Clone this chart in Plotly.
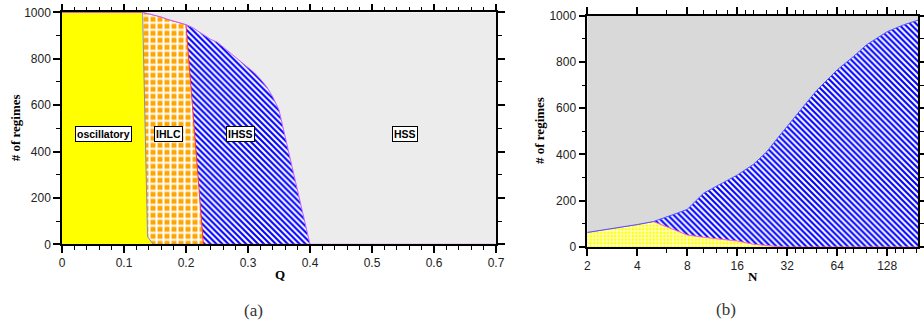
import plotly.graph_objects as go

# ---------------- panel (a): number of regimes versus Q ----------------
q = [0, 0.13, 0.138, 0.147, 0.16, 0.17, 0.18, 0.19, 0.20, 0.21, 0.22, 0.228,
     0.24, 0.25, 0.26, 0.27, 0.28, 0.29, 0.30, 0.31, 0.32, 0.33, 0.34, 0.35,
     0.36, 0.37, 0.38, 0.39, 0.40, 0.70]
osc_a = [1000, 1000, 33, 0] + [0] * 26
ihlc_a = [0, 0, 962, 990, 980, 970, 962, 955, 947, 609, 271, 0] + [0] * 18
ihss_a = [0] * 9 + [326, 647, 905, 883, 872, 850, 828, 805, 784, 765, 740,
                    712, 680, 635, 579, 463, 347, 232, 116, 0, 0]
hss_a = [0, 0, 5, 10, 20, 30, 38, 45, 53, 65, 82, 95, 117, 128, 150, 172, 195,
         216, 235, 260, 288, 320, 365, 421, 537, 653, 768, 884, 1000, 1000]

# ---------------- panel (b): number of regimes versus N ----------------
n = [2, 3, 4, 5, 6, 7, 8, 10, 12, 14, 16, 20, 24, 28, 32, 40, 48, 64, 80, 96,
     128, 160, 197]
ihlc_b = [63, 82, 97, 110, 88, 68, 52, 42, 36, 31, 26, 12, 5, 2, 0, 0, 0, 0,
          0, 0, 0, 0, 0]
ihss_b = [0, 0, 0, 0, 41, 79, 111, 190, 227, 259, 285, 345, 406, 469, 520,
          607, 676, 766, 823, 874, 931, 960, 981]
hss_b = [937, 918, 903, 890, 871, 853, 837, 768, 737, 710, 689, 643, 589, 529,
         480, 393, 324, 234, 177, 126, 69, 40, 19]

n_major = [2, 4, 8, 16, 32, 64, 128]
n_minor = [6, 10, 12, 14, 18, 20, 24, 28, 36, 40, 48, 56, 72, 80, 96, 112,
           144, 160, 192]

W, H = 924, 323
XA_DOM = [62 / W, 496 / W]
YA_DOM = [78.7 / H, 310.7 / H]
XB_DOM = [587.3 / W, 918.3 / W]
YB_DOM = [76 / H, 307.3 / H]
Q_RANGE = [0, 0.7]
N_RANGE = [0.30103, 2.2945]   # log10 of 2 .. 197
Y_RANGE = [0, 1000]

fig = go.Figure()


def layer(x, y, xa, ya, group, line_color, line_width=1.0, fillcolor=None,
          pattern=None):
    kw = dict(x=x, y=y, xaxis=xa, yaxis=ya, stackgroup=group, mode="lines",
              line=dict(color=line_color, width=line_width),
              hoverinfo="skip", showlegend=False)
    if pattern is not None:
        kw["fillpattern"] = pattern
    if fillcolor is not None:
        kw["fillcolor"] = fillcolor
    fig.add_trace(go.Scatter(**kw))


# panel (a) layers, bottom to top
layer(q, osc_a, "x", "y", "a", "#8c8cb0", fillcolor="#ffff00")
layer(q, ihlc_a, "x", "y", "a", "#ff3040",
      pattern=dict(shape="+", fgcolor="#ffffff", bgcolor="#ffa500",
                   size=7, solidity=0.5, fillmode="replace"))
layer(q, ihss_a, "x", "y", "a", "#c060ff",
      pattern=dict(shape="\\", fgcolor="#0000ff", bgcolor="#ffffff",
                   size=4.2, solidity=0.5, fillmode="replace"))
layer(q, hss_a, "x", "y", "a", "#000000", line_width=0, fillcolor="#ececec")

# panel (b) layers, bottom to top
layer(n, ihlc_b, "x2", "y2", "b", "#ff60c0",
      pattern=dict(shape="+", fgcolor="#ffffff", bgcolor="#ffff00",
                   size=3.5, solidity=0.45, fillmode="replace"))
layer(n, ihss_b, "x2", "y2", "b", "#5050ff",
      pattern=dict(shape="\\", fgcolor="#0000ff", bgcolor="#ffffff",
                   size=4.2, solidity=0.5, fillmode="replace"))
layer(n, hss_b, "x2", "y2", "b", "#000000", line_width=0, fillcolor="#d9d9d9")

tick_font = dict(family="Liberation Sans, Arial, sans-serif", size=12,
                 color="#222222")
axis_common = dict(showline=True, linecolor="#000000", linewidth=1.5,
                   mirror="ticks",
                   ticks="outside", ticklen=7, tickwidth=1.5,
                   tickcolor="#000000", showgrid=False, zeroline=False,
                   tickfont=tick_font)
minor_common = dict(ticks="outside", ticklen=4, tickwidth=1.2,
                    tickcolor="#000000", showgrid=False)

q_ticks = dict(tickmode="linear", tick0=0, dtick=0.1,
               minor=dict(dtick=0.02, **minor_common))
y_ticks = dict(tickmode="linear", tick0=0, dtick=200,
               minor=dict(dtick=100, **minor_common))
n_ticks = dict(type="log", tickmode="array", tickvals=n_major,
               ticktext=[str(v) for v in n_major],
               minor=dict(tickmode="array", tickvals=n_minor, **minor_common))

fig.update_layout(
    width=W, height=H,
    margin=dict(l=0, r=0, t=0, b=0, pad=0),
    paper_bgcolor="white", plot_bgcolor="white",
    xaxis=dict(domain=XA_DOM, anchor="y", range=Q_RANGE, **q_ticks,
               **axis_common),
    yaxis=dict(domain=YA_DOM, anchor="x", range=Y_RANGE, **y_ticks,
               **axis_common),
    xaxis2=dict(domain=XB_DOM, anchor="y2", range=N_RANGE, **n_ticks,
                **axis_common),
    yaxis2=dict(domain=YB_DOM, anchor="x2", range=Y_RANGE, **y_ticks,
                **axis_common),
)
fig.update_xaxes(automargin=False)
fig.update_yaxes(automargin=False)

label_font = dict(family="Liberation Sans, Arial, sans-serif", size=10.5,
                  color="black")


def box(text, x, y, xref, yref, bg, size=10.5):
    fig.add_annotation(text="<b>%s</b>" % text, x=x, y=y, xref=xref,
                       yref=yref, showarrow=False, bgcolor=bg,
                       bordercolor="black", borderwidth=1, borderpad=1,
                       font=dict(label_font, size=size))


# regime labels
box("oscillatory", 0.0666, 474, "x", "y", "white")
box("IHLC", 0.1715, 474, "x", "y", "white")
box("IHSS", 0.288, 474, "x", "y", "white")
box("HSS", 0.553, 474, "x", "y", "white")
box("HSS", 5.79, 647, "x2", "y2", "#f5f5f5", size=10)
box("IHLC", 4.66, 38, "x2", "y2", "#f2f2ee", size=10)
box("IHSS", 69, 343, "x2", "y2", "#c8c8c8", size=10)

title_font = dict(family="Liberation Serif, Times New Roman, serif", size=13,
                  color="black")


def paper_text(text, x, y, font, angle=0):
    fig.add_annotation(text=text, x=x / W, y=1 - y / H, xref="paper",
                       yref="paper", showarrow=False, textangle=angle,
                       font=font, xanchor="center", yanchor="middle")


paper_text("<b>Q</b>", 280, 274, title_font)
paper_text("<b>N</b>", 753, 276, title_font)
paper_text("<b># of regimes</b>", 15, 128.3, title_font, angle=-90)
paper_text("<b># of regimes</b>", 539, 131, title_font, angle=-90)

caption_font = dict(family="Liberation Serif, DejaVu Serif, serif", size=17,
                    color="#333333")
paper_text("(a)", 253, 310, caption_font)
paper_text("(b)", 725.7, 309, caption_font)

fig.write_html("out.html")
